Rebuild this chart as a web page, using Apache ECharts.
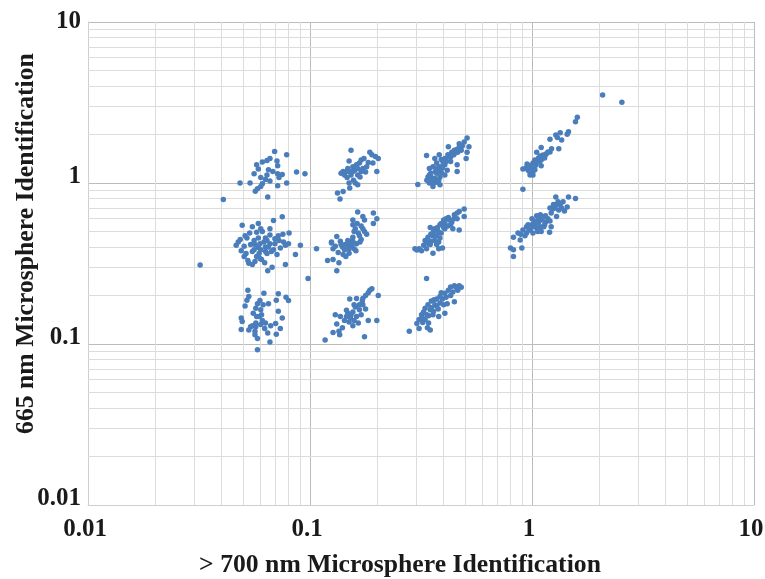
<!DOCTYPE html>
<html>
<head>
<meta charset="utf-8">
<style>html,body{margin:0;padding:0;background:#fff}#c{width:765px;height:579px}</style>
<script src="https://cdn.jsdelivr.net/npm/echarts@6/dist/echarts.min.js"></script>
</head>
<body>
<div id="c"></div>
<script>
const xTitle = '> 700 nm Microsphere Identification';
const yTitle = '665 nm Microsphere Identification';
const minorGrid = [0.02,0.03,0.04,0.05,0.06,0.07,0.08,0.09,0.2,0.3,0.4,0.5,0.6,0.7,0.8,0.9,2,3,4,5,6,7,8,9];
const clusterA = [[0.0693,1.57],[0.0785,1.5],[0.066,1.42],[0.064,1.38],[0.061,1.35],[0.071,1.37],[0.0715,1.28],[0.0575,1.3],[0.0585,1.22],[0.065,1.21],[0.068,1.18],[0.056,1.14],[0.0715,1.14],[0.075,1.13],[0.0725,1.08],[0.064,1.12],[0.06,1.08],[0.063,1.05],[0.066,1.03],[0.0785,1.0],[0.0715,0.96],[0.0484,1.0],[0.0537,1.0],[0.061,0.99],[0.06,0.95],[0.058,0.92],[0.0567,0.89],[0.0645,0.82],[0.087,1.17],[0.0949,1.14],[0.0407,0.79]];
const clusterB = [[0.075,0.618],[0.0495,0.546],[0.0585,0.56],[0.055,0.535],[0.0685,0.585],[0.066,0.52],[0.06,0.52],[0.0805,0.49],[0.0755,0.48],[0.072,0.47],[0.0575,0.495],[0.0485,0.445],[0.0465,0.41],[0.052,0.455],[0.056,0.44],[0.0585,0.455],[0.063,0.455],[0.066,0.475],[0.0505,0.405],[0.054,0.415],[0.0565,0.415],[0.0595,0.42],[0.063,0.4],[0.066,0.42],[0.0695,0.42],[0.076,0.43],[0.08,0.42],[0.0775,0.41],[0.0905,0.41],[0.107,0.39],[0.086,0.36],[0.0515,0.365],[0.0505,0.35],[0.055,0.375],[0.059,0.365],[0.06,0.385],[0.063,0.375],[0.067,0.375],[0.0595,0.34],[0.0565,0.325],[0.053,0.317],[0.055,0.312],[0.064,0.365],[0.0605,0.335],[0.0775,0.312],[0.0675,0.3],[0.0645,0.285],[0.098,0.255],[0.032,0.31],[0.0585,0.398],[0.062,0.43],[0.065,0.4],[0.0685,0.385],[0.056,0.385],[0.064,0.44],[0.0475,0.43],[0.051,0.47],[0.0535,0.49],[0.061,0.5],[0.0695,0.45],[0.0725,0.44],[0.0735,0.395],[0.071,0.36],[0.0525,0.33],[0.0575,0.35],[0.0625,0.32],[0.049,0.38]];
const clusterK = [[0.0525,0.216],[0.062,0.207],[0.072,0.205],[0.078,0.195],[0.08,0.186],[0.0705,0.187],[0.053,0.197],[0.052,0.187],[0.051,0.172],[0.0595,0.186],[0.058,0.178],[0.057,0.167],[0.065,0.178],[0.072,0.16],[0.0555,0.155],[0.06,0.163],[0.059,0.148],[0.049,0.145],[0.0495,0.138],[0.075,0.145],[0.061,0.14],[0.063,0.135],[0.057,0.135],[0.054,0.128],[0.049,0.123],[0.053,0.122],[0.057,0.128],[0.06,0.132],[0.07,0.134],[0.0735,0.125],[0.0565,0.114],[0.058,0.108],[0.0645,0.117],[0.0705,0.115],[0.066,0.103],[0.058,0.092],[0.0575,0.148],[0.0605,0.152],[0.055,0.13],[0.0615,0.175],[0.0565,0.12],[0.0625,0.125],[0.0665,0.13]];
const clusterC = [[0.153,1.6],[0.186,1.55],[0.19,1.5],[0.197,1.46],[0.203,1.42],[0.15,1.37],[0.17,1.39],[0.175,1.42],[0.192,1.33],[0.2,1.18],[0.18,1.26],[0.167,1.33],[0.162,1.3],[0.156,1.26],[0.148,1.23],[0.141,1.18],[0.138,1.15],[0.146,1.18],[0.143,1.12],[0.151,1.18],[0.159,1.2],[0.164,1.23],[0.17,1.18],[0.173,1.23],[0.164,1.12],[0.157,1.04],[0.16,1.0],[0.164,0.975],[0.15,1.0],[0.151,0.93],[0.141,0.885],[0.133,0.867],[0.1365,0.795],[0.156,1.18],[0.153,1.12],[0.168,1.09],[0.178,1.17],[0.183,1.34],[0.147,1.08]];
const clusterD = [[0.164,0.66],[0.193,0.65],[0.2,0.6],[0.193,0.56],[0.156,0.59],[0.173,0.62],[0.176,0.59],[0.156,0.55],[0.16,0.52],[0.173,0.52],[0.18,0.48],[0.167,0.47],[0.156,0.46],[0.132,0.465],[0.125,0.43],[0.137,0.435],[0.144,0.415],[0.15,0.425],[0.156,0.435],[0.17,0.445],[0.125,0.424],[0.153,0.435],[0.162,0.42],[0.147,0.41],[0.14,0.4],[0.15,0.39],[0.158,0.39],[0.143,0.385],[0.15,0.366],[0.12,0.33],[0.127,0.335],[0.135,0.32],[0.132,0.285],[0.168,0.43],[0.127,0.39],[0.161,0.38],[0.165,0.49],[0.17,0.54],[0.134,0.37],[0.141,0.36],[0.148,0.44],[0.158,0.5],[0.163,0.56],[0.176,0.5],[0.154,0.41],[0.138,0.415],[0.145,0.35],[0.13,0.405]];
const clusterE = [[0.186,0.216],[0.19,0.22],[0.183,0.208],[0.203,0.2],[0.173,0.192],[0.151,0.19],[0.162,0.192],[0.167,0.175],[0.158,0.175],[0.167,0.163],[0.146,0.162],[0.156,0.158],[0.13,0.152],[0.137,0.148],[0.146,0.148],[0.153,0.152],[0.162,0.148],[0.17,0.152],[0.183,0.14],[0.2,0.14],[0.15,0.137],[0.156,0.13],[0.14,0.126],[0.135,0.12],[0.127,0.118],[0.136,0.114],[0.176,0.111],[0.117,0.106],[0.178,0.2],[0.152,0.145],[0.143,0.14],[0.16,0.17],[0.173,0.175],[0.178,0.165],[0.148,0.155],[0.158,0.14],[0.165,0.135],[0.132,0.133],[0.172,0.185]];
const clusterF = [[0.306,0.98],[0.335,1.48],[0.382,1.5],[0.42,1.68],[0.51,1.9],[0.495,1.8],[0.52,1.68],[0.51,1.55],[0.505,1.42],[0.47,1.75],[0.447,1.6],[0.463,1.55],[0.438,1.5],[0.422,1.45],[0.405,1.42],[0.39,1.4],[0.365,1.42],[0.372,1.33],[0.358,1.26],[0.345,1.23],[0.385,1.26],[0.405,1.3],[0.43,1.36],[0.46,1.3],[0.46,1.18],[0.415,1.2],[0.372,1.15],[0.35,1.15],[0.336,1.04],[0.34,1.09],[0.365,1.07],[0.385,1.09],[0.345,1.0],[0.358,0.95],[0.385,0.975],[0.38,1.04],[0.352,1.02],[0.452,1.55],[0.48,1.6],[0.395,1.24],[0.38,1.21],[0.43,1.45],[0.445,1.5],[0.41,1.36],[0.418,1.5],[0.47,1.66],[0.485,1.7],[0.398,1.34],[0.375,1.24],[0.352,1.08],[0.367,1.18],[0.39,1.16],[0.405,1.12],[0.345,1.12],[0.372,1.01],[0.36,1.0],[0.46,1.62],[0.435,1.55]];
const clusterG = [[0.495,0.69],[0.47,0.665],[0.447,0.635],[0.42,0.61],[0.4,0.59],[0.435,0.57],[0.405,0.56],[0.385,0.55],[0.46,0.6],[0.495,0.62],[0.47,0.51],[0.365,0.52],[0.348,0.53],[0.378,0.5],[0.39,0.49],[0.358,0.47],[0.34,0.46],[0.336,0.43],[0.352,0.435],[0.372,0.415],[0.31,0.39],[0.297,0.39],[0.405,0.52],[0.43,0.55],[0.372,0.47],[0.385,0.455],[0.303,0.384],[0.318,0.38],[0.335,0.39],[0.358,0.366],[0.348,0.415],[0.38,0.39],[0.395,0.395],[0.33,0.44],[0.41,0.6],[0.425,0.59],[0.445,0.6],[0.46,0.65],[0.39,0.56],[0.4,0.53],[0.418,0.54],[0.375,0.53],[0.36,0.5],[0.35,0.48],[0.342,0.42],[0.365,0.44],[0.325,0.41],[0.38,0.43],[0.44,0.52]];
const clusterH = [[0.335,0.255],[0.447,0.23],[0.48,0.225],[0.43,0.226],[0.42,0.216],[0.463,0.216],[0.405,0.207],[0.385,0.197],[0.43,0.2],[0.447,0.183],[0.372,0.19],[0.352,0.185],[0.385,0.18],[0.365,0.175],[0.34,0.175],[0.33,0.167],[0.348,0.163],[0.372,0.172],[0.4,0.175],[0.336,0.152],[0.318,0.152],[0.31,0.142],[0.303,0.134],[0.33,0.142],[0.358,0.152],[0.38,0.148],[0.405,0.155],[0.31,0.125],[0.338,0.126],[0.348,0.122],[0.28,0.12],[0.325,0.158],[0.352,0.168],[0.44,0.21],[0.41,0.195],[0.395,0.19],[0.378,0.165],[0.36,0.16],[0.342,0.15],[0.322,0.136],[0.342,0.135],[0.415,0.178],[0.455,0.225],[0.47,0.23],[0.39,0.208],[0.362,0.188],[0.32,0.145]];
const clusterI = [[1.6,2.56],[1.57,2.4],[1.46,2.08],[1.44,2.01],[1.34,2.05],[1.28,1.99],[1.36,1.85],[1.3,1.92],[1.205,1.87],[1.32,1.63],[1.1,1.66],[1.05,1.55],[1.225,1.63],[1.205,1.56],[1.16,1.52],[1.12,1.49],[1.09,1.47],[1.03,1.39],[1.05,1.36],[1.1,1.39],[1.14,1.43],[1.01,1.33],[0.95,1.31],[0.98,1.28],[0.91,1.22],[0.96,1.2],[1.0,1.23],[1.04,1.29],[1.1,1.28],[0.98,1.16],[1.01,1.12],[1.01,1.18],[0.98,1.12],[0.91,0.914],[1.08,1.35],[1.15,1.5],[1.18,1.56],[0.94,1.24],[1.03,1.21],[1.07,1.43]];
const clusterJ = [[1.57,0.8],[1.46,0.82],[1.28,0.82],[1.38,0.765],[1.31,0.765],[1.25,0.735],[1.34,0.735],[1.44,0.71],[1.205,0.7],[1.27,0.7],[1.4,0.67],[1.22,0.65],[1.09,0.635],[1.29,0.62],[1.15,0.625],[1.05,0.625],[1.205,0.58],[1.1,0.59],[1.02,0.58],[1.15,0.57],[1.0,0.55],[1.09,0.535],[1.22,0.535],[0.945,0.535],[1.05,0.525],[0.91,0.51],[0.98,0.51],[1.1,0.5],[1.2,0.495],[0.865,0.49],[1.01,0.49],[0.945,0.49],[0.89,0.48],[0.825,0.46],[0.885,0.443],[0.8,0.395],[0.825,0.385],[0.9,0.395],[0.825,0.35],[1.07,0.57],[1.13,0.535],[1.18,0.6],[0.97,0.51],[1.01,0.535],[1.29,0.735],[1.36,0.7],[1.32,0.68],[1.24,0.69],[1.12,0.61],[1.04,0.56],[0.96,0.55],[1.06,0.5],[1.14,0.55],[1.0,0.6],[1.07,0.6],[0.93,0.47]];
const outliers = [[2.08,3.52],[2.54,3.17]];

const allPoints = [].concat(clusterA, clusterB, clusterK, clusterC, clusterD, clusterE, clusterF, clusterG, clusterH, clusterI, clusterJ, outliers);
const serif = '"Liberation Serif","Times New Roman",serif';
const minorLine = { color: '#dcdcdc', width: 1, type: 'solid' };
const chart = echarts.init(document.getElementById('c'), null, { renderer: 'canvas' });
const labelFmt = v => String(Number(v.toPrecision(1)));
const axisCommon = {
  type: 'log', logBase: 10, min: 0.01, max: 10,
  axisTick: { show: false },
  minorTick: { show: false },
  splitLine: { show: true, lineStyle: { color: '#bcbcbc', width: 1 } },
  axisLine: { show: true, onZero: false, lineStyle: { color: '#cfcfcf', width: 1 } },
  nameLocation: 'middle',
  nameMoveOverlap: false
};
const titleStyle = { fontFamily: serif, fontWeight: 'bold', fontSize: 25.7, color: '#1a1a1a' };
chart.setOption({
  animation: false,
  backgroundColor: '#ffffff',
  grid: { left: 88, right: 11, top: 22, bottom: 74, containLabel: false, outerBoundsMode: 'none' },
  xAxis: Object.assign({}, axisCommon, {
    name: xTitle, nameGap: 47,
    nameTextStyle: Object.assign({}, titleStyle, { padding: [0, 42, 0, 0] }),
    axisLabel: { formatter: labelFmt, fontFamily: serif, fontWeight: 'bold', fontSize: 25, color: '#1a1a1a', margin: 12, padding: [0, 6, 0, 0], showMinLabel: true, showMaxLabel: true }
  }),
  yAxis: Object.assign({}, axisCommon, {
    name: yTitle, nameGap: 49,
    nameTextStyle: Object.assign({}, titleStyle, { padding: [0, 0, 0, 40] }),
    axisLabel: { formatter: labelFmt, fontFamily: serif, fontWeight: 'bold', fontSize: 25, lineHeight: 12, color: '#1a1a1a', margin: 7, verticalAlign: 'bottom', verticalAlignMaxLabel: 'middle', showMinLabel: true, showMaxLabel: true }
  }),
  series: [{
    type: 'scatter',
    name: 'Microspheres',
    data: allPoints,
    symbol: 'circle',
    symbolSize: 5.5,
    itemStyle: { color: '#4a7dbb', opacity: 1 },
    z: 5,
    markLine: {
      silent: true, symbol: 'none', animation: false, z: 1,
      label: { show: false },
      lineStyle: minorLine,
      data: minorGrid.map(v => ({ xAxis: v })).concat(minorGrid.map(v => ({ yAxis: v })))
    }
  }]
});
</script>
</body>
</html>
